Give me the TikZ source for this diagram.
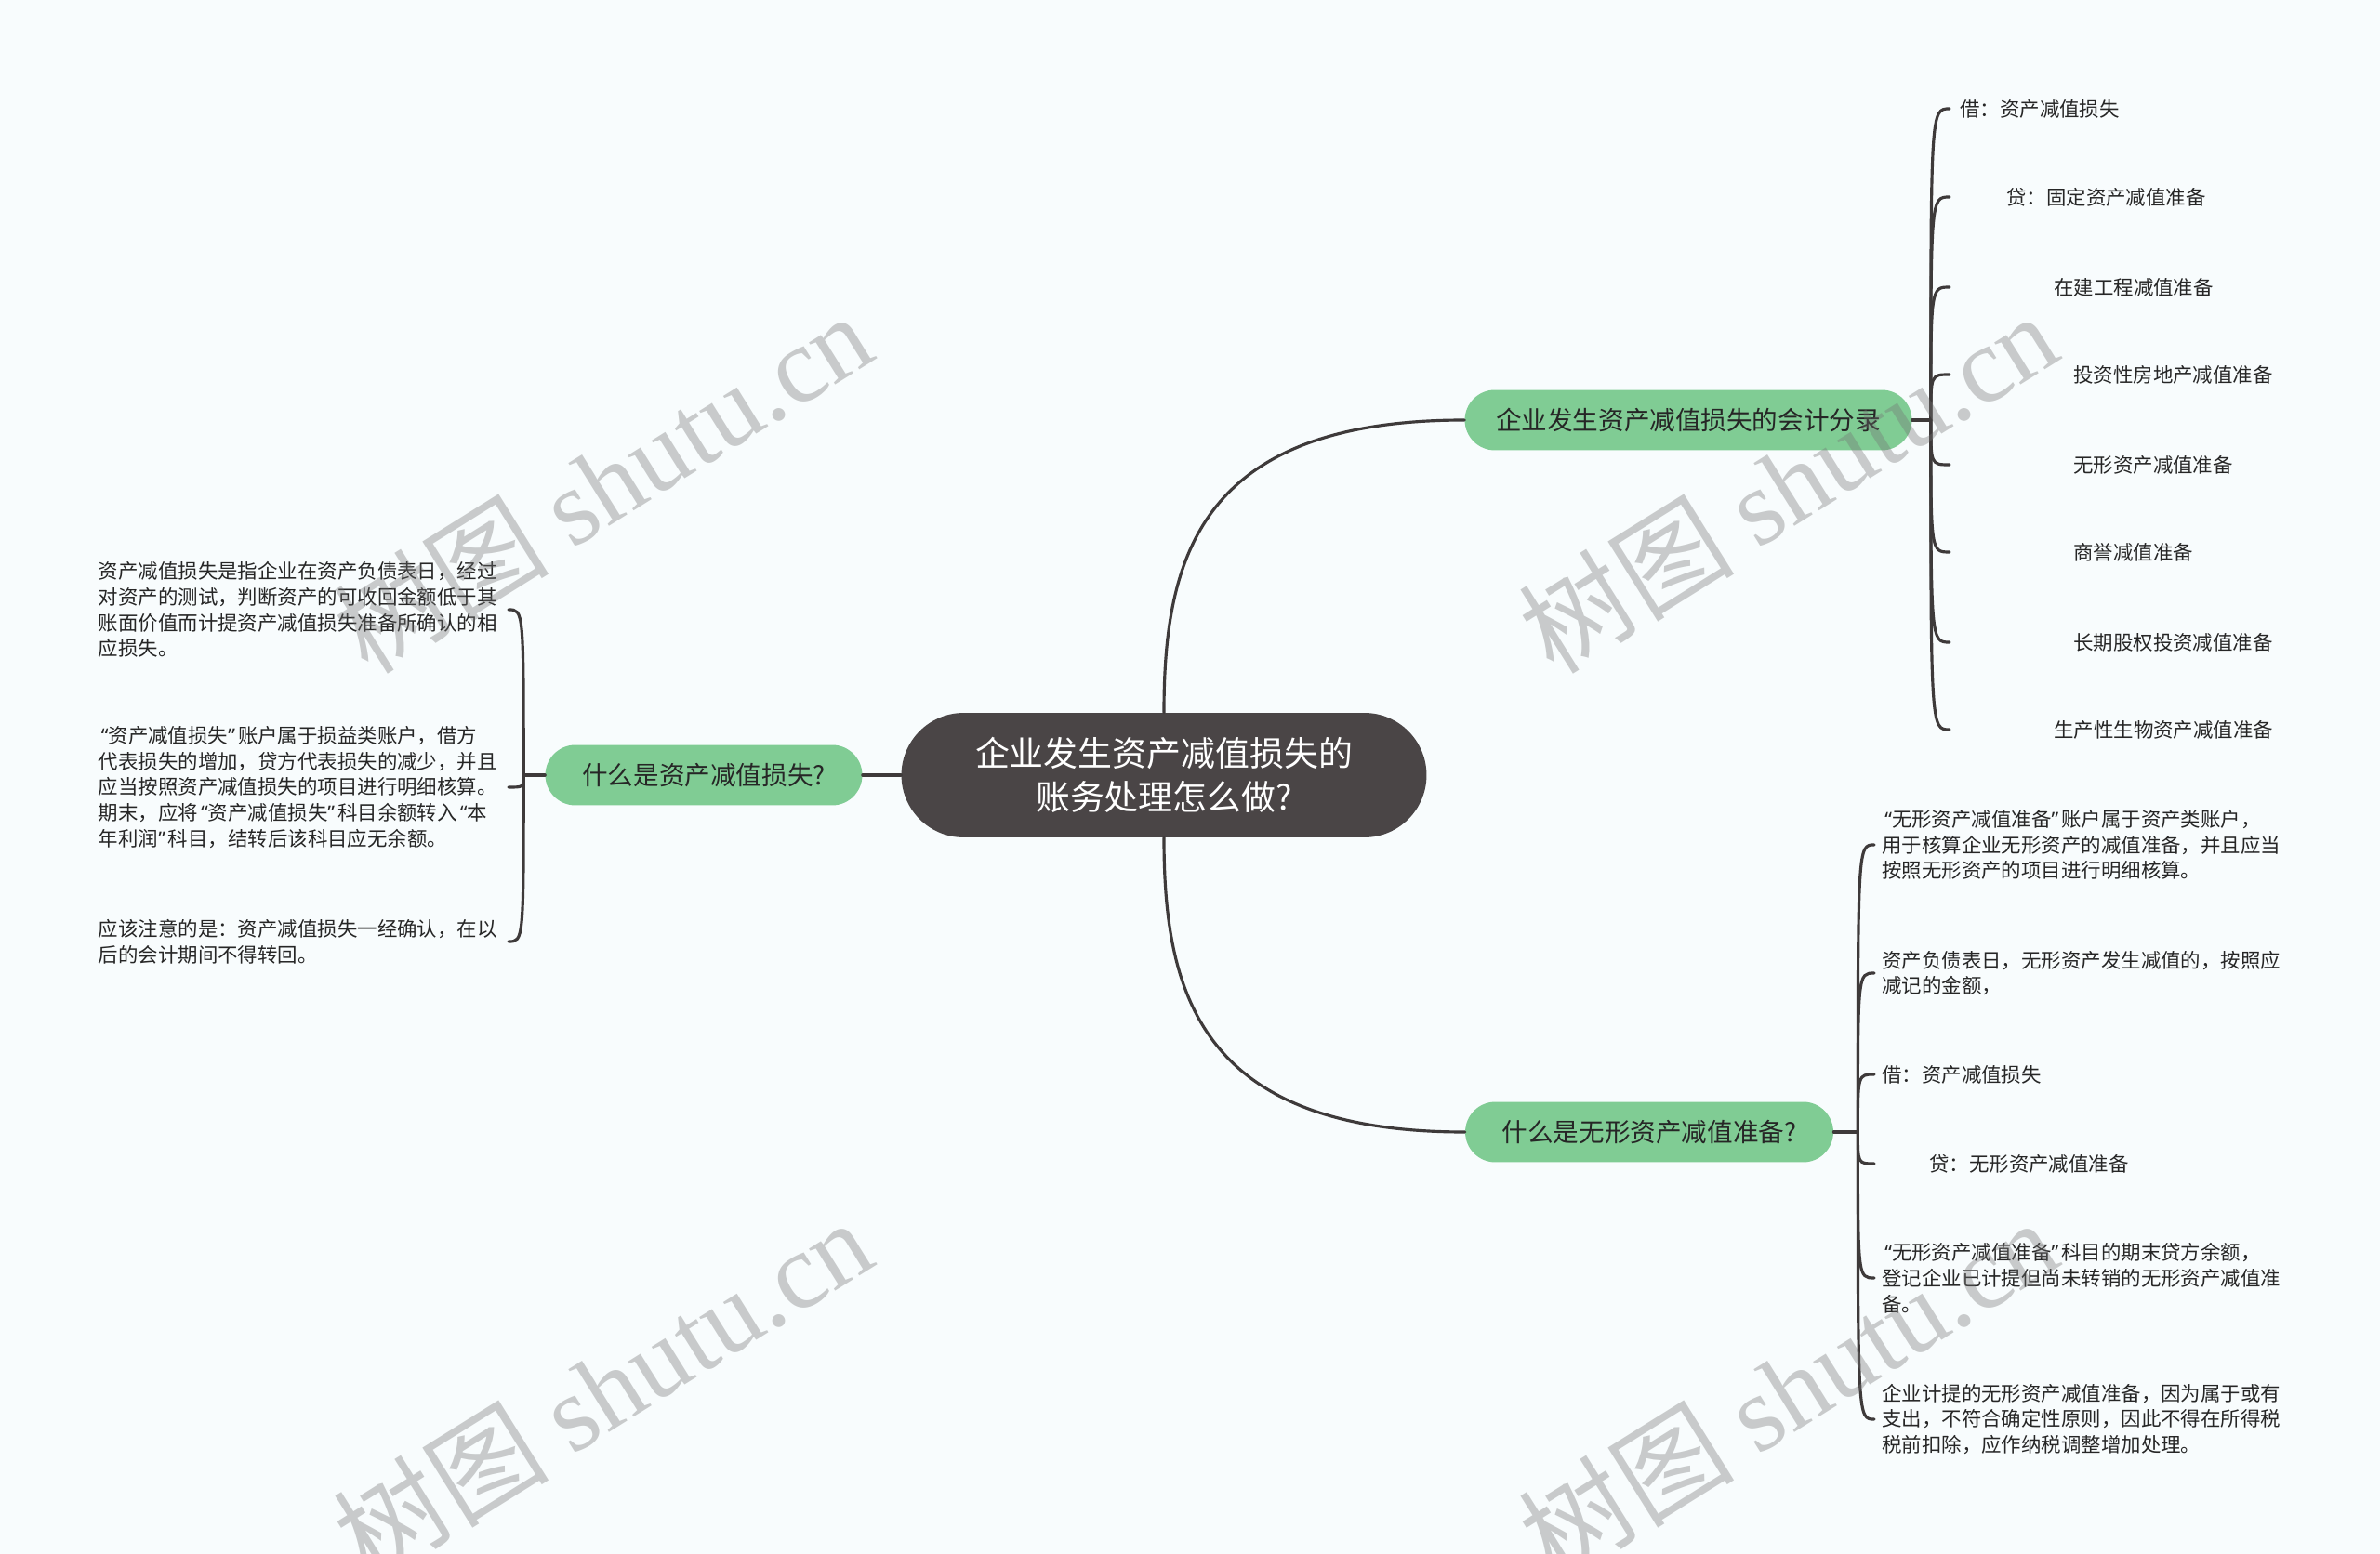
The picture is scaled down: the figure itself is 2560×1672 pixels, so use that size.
\documentclass[tikz,border=0pt]{standalone}
\usepackage{fontspec}
\setmainfont{Noto Sans CJK SC}
\newfontfamily\wmserif{Liberation Serif}
\newfontfamily\qfont{Noto Sans}
\newcommand\lquo{\makebox[.5em][r]{\qfont “}}
\newcommand\rquo{\makebox[.5em][l]{\qfont ”}}
\usetikzlibrary{positioning}
\definecolor{mapbg}{RGB}{248,252,253}
\definecolor{mapdark}{RGB}{74,69,70}
\definecolor{mapgreen}{RGB}{128,204,148}
\definecolor{mapline}{RGB}{62,58,58}
\definecolor{mapink}{RGB}{38,38,38}

\begin{document}
\begin{tikzpicture}[x=.02cm,y=-.02cm,line cap=round,
 rootnode/.style={fill=mapdark,text=white,rounded corners=1.34cm,minimum width=11.3cm,
  minimum height=2.68cm,align=center,inner sep=0pt,font=\fontsize{21pt}{26.7pt}\selectfont},
 topic/.style={fill=mapgreen,text=mapink,rounded corners=.65cm,minimum height=1.3cm,
  inner sep=0pt,font=\fontsize{15.7pt}{19pt}\selectfont},
 leaf/.style={anchor=west,text=mapink,inner sep=0pt,font=\fontsize{12.2pt}{15.8pt}\selectfont},
 note/.style={text=mapink,align=left,inner ysep=0pt,inner xsep=.16cm,font=\fontsize{12.2pt}{15.8pt}\selectfont},
 link/.style={mapline,line width=1.8pt},
 watermark/.style={rotate=32,text=black!55,opacity=.36,inner sep=0pt,font=\fontsize{66pt}{66pt}\selectfont}]
\fill[mapbg] (0,0) rectangle (2560,1672);
\useasboundingbox (0,0) rectangle (2560,1672);

\node[rootnode] (root) at (1252,834) {企业发生资产减值损失的\\账务处理怎么做?};
\node[topic,minimum width=9.62cm] (entry) at (1816,452) {企业发生资产减值损失的会计分录};
\node[topic,minimum width=6.82cm] (whatloss) at (757,834) {什么是资产减值损失?};
\node[topic,minimum width=7.92cm] (whatres) at (1774,1218) {什么是无形资产减值准备?};

\draw[link] (root.north) .. controls (1252,600) and (1290,452) .. (entry.west);
\draw[link] (root.south) .. controls (1252,1068) and (1290,1218) .. (whatres.west);
\draw[link] (root.west) -- (whatloss.east);

% journal entries
\draw[link] (entry.east) -- ++(20,0) coordinate (espine);
\foreach \yy/\dx/\txt [count=\i] in {117/.22/借：资产减值损失,212/1.22/贷：固定资产减值准备,
  309/2.24/在建工程减值准备,403/2.66/投资性房地产减值准备,500/2.66/无形资产减值准备,
  594/2.66/商誉减值准备,691/2.66/长期股权投资减值准备,785/2.24/生产性生物资产减值准备}
{
 \node[leaf] (e\i) at (2097,\yy) {\hspace*{\dx cm}\txt};
 \draw[link] (espine) .. controls (espine |- e\i.west) .. (e\i.west);
}

% what is the loss
\draw[link] (whatloss.west) -- ++(-23,0) coordinate (lspine);
\node[note,anchor=east,inner xsep=.24cm] (l1) at (547,656) {资产减值损失是指企业在资产负债表日，经过\\对资产的测试，判断资产的可收回金额低于其\\账面价值而计提资产减值损失准备所确认的相\\应损失。};
\node[note,anchor=east,inner xsep=.24cm] (l2) at (547,847) {\lquo 资产减值损失\rquo 账户属于损益类账户，借方\\代表损失的增加，贷方代表损失的减少，并且\\应当按照资产减值损失的项目进行明细核算。\\期末，应将\lquo 资产减值损失\rquo 科目余额转入\lquo 本\\年利润\rquo 科目，结转后该科目应无余额。};
\node[note,anchor=east,inner xsep=.24cm] (l3) at (547,1013) {应该注意的是：资产减值损失一经确认，在以\\后的会计期间不得转回。};
\foreach \n in {l1,l2,l3}
 \draw[link] (lspine) .. controls (lspine |- \n.east) .. (\n.east);

% intangible reserve
\draw[link] (whatres.east) -- ++(26,0) coordinate (rspine);
\node[note,anchor=west] (r1) at (2016,909) {\lquo 无形资产减值准备\rquo 账户属于资产类账户，\\用于核算企业无形资产的减值准备，并且应当\\按照无形资产的项目进行明细核算。};
\node[note,anchor=west] (r2) at (2016,1047) {资产负债表日，无形资产发生减值的，按照应\\减记的金额，};
\node[note,anchor=west] (r3) at (2016,1156) {借：资产减值损失};
\node[note,anchor=west] (r4) at (2016,1252) {\hspace*{1.02cm}贷：无形资产减值准备};
\node[note,anchor=west] (r5) at (2016,1375) {\lquo 无形资产减值准备\rquo 科目的期末贷方余额，\\登记企业已计提但尚未转销的无形资产减值准\\备。};
\node[note,anchor=west] (r6) at (2016,1527) {企业计提的无形资产减值准备，因为属于或有\\支出，不符合确定性原则，因此不得在所得税\\税前扣除，应作纳税调整增加处理。};
\foreach \n in {r1,r2,r3,r4,r5,r6}
 \draw[link] (rspine) .. controls (rspine |- \n.west) .. (\n.west);

\begin{scope}
\clip (0,0) rectangle (2560,1672);
\foreach \wx/\wy [count=\i] in {648/519,1923/519,648/1494,1923/1494}
 \node[watermark] (wm\i) at (\wx,\wy) {树图 {\wmserif shutu.cn}};
\end{scope}
\end{tikzpicture}
\end{document}
